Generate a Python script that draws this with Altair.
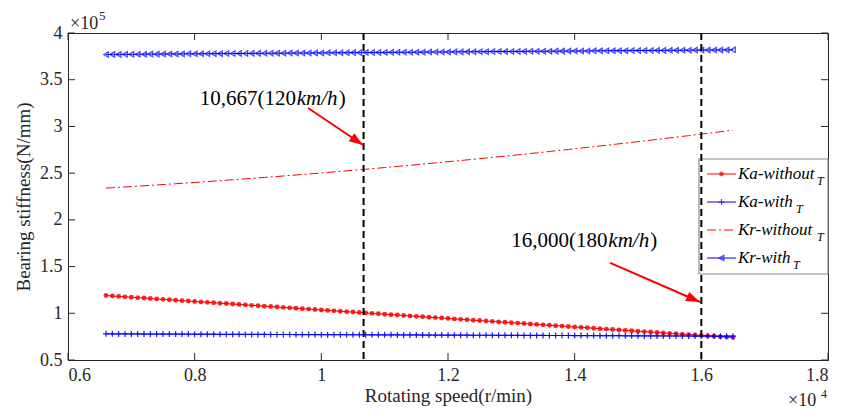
import math
import altair as alt
import pandas as pd

# ---------------- data (x in 10^4 r/min, stiffness in 10^5 N/mm) ----------------
speed = [
    0.66, 0.67, 0.68, 0.69, 0.70, 0.71, 0.72, 0.73, 0.74, 0.75,
    0.76, 0.77, 0.78, 0.79, 0.80, 0.81, 0.82, 0.83, 0.84, 0.85,
    0.86, 0.87, 0.88, 0.89, 0.90, 0.91, 0.92, 0.93, 0.94, 0.95,
    0.96, 0.97, 0.98, 0.99, 1.00, 1.01, 1.02, 1.03, 1.04, 1.05,
    1.06, 1.07, 1.08, 1.09, 1.10, 1.11, 1.12, 1.13, 1.14, 1.15,
    1.16, 1.17, 1.18, 1.19, 1.20, 1.21, 1.22, 1.23, 1.24, 1.25,
    1.26, 1.27, 1.28, 1.29, 1.30, 1.31, 1.32, 1.33, 1.34, 1.35,
    1.36, 1.37, 1.38, 1.39, 1.40, 1.41, 1.42, 1.43, 1.44, 1.45,
    1.46, 1.47, 1.48, 1.49, 1.50, 1.51, 1.52, 1.53, 1.54, 1.55,
    1.56, 1.57, 1.58, 1.59, 1.60, 1.61, 1.62, 1.63, 1.64, 1.65,
]

ka_without = [
    1.190, 1.185, 1.181, 1.176, 1.172, 1.167, 1.163, 1.158, 1.154, 1.149,
    1.145, 1.140, 1.135, 1.131, 1.126, 1.122, 1.117, 1.113, 1.108, 1.104,
    1.099, 1.095, 1.090, 1.085, 1.081, 1.076, 1.072, 1.067, 1.063, 1.058,
    1.054, 1.049, 1.045, 1.040, 1.035, 1.031, 1.026, 1.022, 1.017, 1.013,
    1.008, 1.004, 0.999, 0.995, 0.990, 0.985, 0.981, 0.976, 0.972, 0.967,
    0.963, 0.958, 0.954, 0.949, 0.945, 0.940, 0.935, 0.931, 0.926, 0.922,
    0.917, 0.913, 0.908, 0.904, 0.899, 0.895, 0.890, 0.885, 0.881, 0.876,
    0.872, 0.867, 0.863, 0.858, 0.854, 0.849, 0.845, 0.840, 0.835, 0.831,
    0.826, 0.822, 0.817, 0.813, 0.808, 0.804, 0.799, 0.795, 0.790, 0.785,
    0.781, 0.776, 0.772, 0.767, 0.763, 0.758, 0.754, 0.749, 0.745, 0.740,
]

ka_with = [
    0.780, 0.780, 0.779, 0.779, 0.779, 0.779, 0.778, 0.778, 0.778, 0.778,
    0.777, 0.777, 0.777, 0.777, 0.776, 0.776, 0.776, 0.776, 0.775, 0.775,
    0.775, 0.775, 0.774, 0.774, 0.774, 0.774, 0.773, 0.773, 0.773, 0.773,
    0.772, 0.772, 0.772, 0.772, 0.771, 0.771, 0.771, 0.771, 0.770, 0.770,
    0.770, 0.770, 0.769, 0.769, 0.769, 0.769, 0.768, 0.768, 0.768, 0.768,
    0.767, 0.767, 0.767, 0.767, 0.766, 0.766, 0.766, 0.766, 0.765, 0.765,
    0.765, 0.765, 0.764, 0.764, 0.764, 0.764, 0.763, 0.763, 0.763, 0.763,
    0.762, 0.762, 0.762, 0.762, 0.761, 0.761, 0.761, 0.761, 0.760, 0.760,
    0.760, 0.760, 0.759, 0.759, 0.759, 0.758, 0.758, 0.758, 0.758, 0.757,
    0.757, 0.757, 0.757, 0.756, 0.756, 0.756, 0.756, 0.755, 0.755, 0.755,
]

kr_without = [
    2.340, 2.344, 2.348, 2.352, 2.356, 2.361, 2.365, 2.369, 2.373, 2.378,
    2.382, 2.387, 2.391, 2.396, 2.400, 2.405, 2.410, 2.414, 2.419, 2.424,
    2.429, 2.434, 2.439, 2.444, 2.449, 2.454, 2.459, 2.464, 2.470, 2.475,
    2.480, 2.486, 2.491, 2.496, 2.502, 2.508, 2.513, 2.519, 2.525, 2.530,
    2.536, 2.542, 2.548, 2.554, 2.560, 2.566, 2.572, 2.578, 2.584, 2.590,
    2.597, 2.603, 2.609, 2.616, 2.622, 2.629, 2.635, 2.642, 2.648, 2.655,
    2.662, 2.669, 2.675, 2.682, 2.689, 2.696, 2.703, 2.710, 2.717, 2.724,
    2.732, 2.739, 2.746, 2.753, 2.761, 2.768, 2.776, 2.783, 2.791, 2.798,
    2.806, 2.814, 2.821, 2.829, 2.837, 2.845, 2.853, 2.861, 2.869, 2.877,
    2.885, 2.893, 2.901, 2.910, 2.918, 2.926, 2.934, 2.943, 2.951, 2.960,
]

kr_with = [
    3.770, 3.771, 3.771, 3.772, 3.772, 3.773, 3.773, 3.774, 3.774, 3.775,
    3.775, 3.776, 3.776, 3.777, 3.777, 3.778, 3.778, 3.779, 3.779, 3.780,
    3.780, 3.781, 3.781, 3.782, 3.782, 3.783, 3.783, 3.784, 3.784, 3.785,
    3.785, 3.786, 3.786, 3.787, 3.787, 3.788, 3.788, 3.789, 3.789, 3.790,
    3.790, 3.791, 3.791, 3.792, 3.792, 3.793, 3.793, 3.794, 3.794, 3.795,
    3.795, 3.796, 3.796, 3.797, 3.797, 3.798, 3.798, 3.799, 3.799, 3.800,
    3.800, 3.801, 3.801, 3.802, 3.802, 3.803, 3.803, 3.804, 3.804, 3.805,
    3.805, 3.806, 3.806, 3.807, 3.807, 3.808, 3.808, 3.809, 3.809, 3.810,
    3.810, 3.811, 3.811, 3.812, 3.812, 3.813, 3.813, 3.814, 3.814, 3.815,
    3.815, 3.816, 3.816, 3.817, 3.817, 3.818, 3.818, 3.819, 3.819, 3.820,
]

x_ticks = [0.6, 0.8, 1.0, 1.2, 1.4, 1.6, 1.8]
y_ticks = [0.5, 1.0, 1.5, 2.0, 2.5, 3.0, 3.5, 4.0]

marker_speeds = [1.0667, 1.6]

annotation_labels = ["10,667(120", "16,000(180"]
annotation_unit = "km/h"
annotation_x = [0.808, 1.300]
annotation_y = [3.229, 1.710]

arrow_x1 = [0.979, 1.456]
arrow_y1 = [3.197, 1.540]
arrow_x2 = [1.066, 1.598]
arrow_y2 = [2.801, 1.121]

legend_labels = ["Ka-without", "Ka-with", "Kr-without", "Kr-with"]
legend_sub = "T"

# ---------------- styling ----------------
W, H = 760, 327
X_DOM = [0.6, 1.8]
Y_DOM = [0.5, 4.0]
FONT = "Liberation Serif"
INK = "#262626"
RED = "#ff0000"
BLUE = "#0000ff"
PLUS = "M-1,0L1,0M0,-1L0,1"
HEAD = "M0,0L-0.7,2L0.7,2Z"

xscale = alt.Scale(domain=X_DOM, nice=False, zero=False)
yscale = alt.Scale(domain=Y_DOM, nice=False, zero=False)

xaxis = alt.Axis(
    values=x_ticks, format="~g", ticks=False, tickSize=0, grid=False,
    labelFont=FONT, labelFontSize=18, labelColor=INK, labelPadding=6,
    domainColor=INK, domainWidth=1,
    title="Rotating speed(r/min)", titleFont=FONT, titleFontSize=19,
    titleFontWeight="normal", titleColor=INK, titleX=W / 2, titleY=41,
    titleAlign="center", titleBaseline="alphabetic",
)
yaxis = alt.Axis(
    values=y_ticks, format="~g", ticks=False, tickSize=0, grid=False,
    labelFont=FONT, labelFontSize=18, labelColor=INK, labelPadding=6,
    domainColor=INK, domainWidth=1,
    title="Bearing stiffness(N/mm)", titleFont=FONT, titleFontSize=19,
    titleFontWeight="normal", titleColor=INK, titleX=-39, titleY=H / 2,
    titleAlign="center", titleBaseline="alphabetic", titleAngle=270,
)


def X(field):
    return alt.X(f"{field}:Q", scale=xscale, axis=xaxis)


def Y(field):
    return alt.Y(f"{field}:Q", scale=yscale, axis=yaxis)


def series(vals):
    return pd.DataFrame({"speed": speed, "k": vals})


layers = []

# Ka-without (red, dots)
d1 = alt.Chart(series(ka_without))
layers.append(d1.mark_line(color=RED, strokeWidth=1).encode(X("speed"), Y("k")))
layers.append(d1.mark_point(shape="circle", filled=True, color=RED, size=24, opacity=0.85)
              .encode(X("speed"), Y("k")))

# Ka-with (blue, plus)
d2 = alt.Chart(series(ka_with))
layers.append(d2.mark_line(color=BLUE, strokeWidth=1).encode(X("speed"), Y("k")))
layers.append(d2.mark_point(shape=PLUS, filled=False, color=BLUE, size=36, strokeWidth=1.2, opacity=0.9)
              .encode(X("speed"), Y("k")))

# Kr-without (red dash-dot)
d3 = alt.Chart(series(kr_without))
layers.append(d3.mark_line(color=RED, strokeWidth=1, strokeDash=[9, 3, 2, 3]).encode(X("speed"), Y("k")))

# Kr-with (blue, left triangles)
d4 = alt.Chart(series(kr_with))
layers.append(d4.mark_line(color=BLUE, strokeWidth=1).encode(X("speed"), Y("k")))
layers.append(d4.mark_point(shape="triangle-left", filled=False, color=BLUE, size=28, strokeWidth=1.3)
              .encode(X("speed"), Y("k")))

# inward ticks on all four sides
xt = alt.Chart(pd.DataFrame({"t": x_ticks}))
yt = alt.Chart(pd.DataFrame({"t": y_ticks}))
layers.append(xt.mark_rule(color=INK, strokeWidth=1).encode(X("t"), y=alt.value(H - 7), y2=alt.value(H)))
layers.append(xt.mark_rule(color=INK, strokeWidth=1).encode(X("t"), y=alt.value(0), y2=alt.value(7)))
layers.append(yt.mark_rule(color=INK, strokeWidth=1).encode(Y("t"), x=alt.value(0), x2=alt.value(7)))
layers.append(yt.mark_rule(color=INK, strokeWidth=1).encode(Y("t"), x=alt.value(W - 7), x2=alt.value(W)))

dummy = alt.Chart(pd.DataFrame({"d": [0]}))

# legend box
LX0, LX1, LY0, LY1 = 631, W, 126, 241
layers.append(dummy.mark_rect(fill="white", stroke="#8a8a8a", strokeWidth=1.2).encode(
    x=alt.value(LX0), x2=alt.value(LX1), y=alt.value(LY0), y2=alt.value(LY1)))

# dashed vertical markers
layers.append(alt.Chart(pd.DataFrame({"s": marker_speeds})).mark_rule(
    color="black", strokeWidth=2, strokeDash=[7, 4]).encode(X("s")))

# arrows
arr = pd.DataFrame({"x1": arrow_x1, "y1": arrow_y1, "x2": arrow_x2, "y2": arrow_y2})
arr["angle"] = [
    math.degrees(math.atan2((a - b) * H / (Y_DOM[1] - Y_DOM[0]), (c - d) * W / (X_DOM[1] - X_DOM[0]))) + 90
    for a, b, c, d in zip(arr["y1"], arr["y2"], arr["x2"], arr["x1"])
]
ca = alt.Chart(arr)
layers.append(ca.mark_rule(color=RED, strokeWidth=2).encode(
    X("x1"), Y("y1"), x2=alt.X2("x2:Q"), y2=alt.Y2("y2:Q")))
layers.append(ca.mark_point(shape=HEAD, filled=True, color=RED, size=196, opacity=1).encode(
    X("x2"), Y("y2"), angle=alt.Angle("angle:Q", scale=None)))

# annotation texts
ann = alt.Chart(pd.DataFrame({"tx": annotation_x, "ty": annotation_y, "label": annotation_labels}))
layers.append(ann.mark_text(align="left", baseline="alphabetic", font=FONT, fontSize=21, color="black")
              .encode(X("tx"), Y("ty"), text="label:N"))
layers.append(ann.mark_text(align="left", baseline="alphabetic", font=FONT, fontSize=21, color="black",
                            fontStyle="italic", dx=97, text=annotation_unit)
              .encode(X("tx"), Y("ty")))
layers.append(ann.mark_text(align="left", baseline="alphabetic", font=FONT, fontSize=21, color="black",
                            dx=139, text=")")
              .encode(X("tx"), Y("ty")))

# legend entries
legend_colors = [RED, BLUE, RED, BLUE]
legend_dash = [[1, 0], [1, 0], [9, 3, 2, 3], [1, 0]]
legend_shapes = ["circle", PLUS, None, "triangle-left"]
legend_sub_x = [749, 728, 749, 725]
for i, lab in enumerate(legend_labels):
    ry = 141 + 28 * i
    layers.append(dummy.mark_rule(color=legend_colors[i], strokeWidth=1, strokeDash=legend_dash[i]).encode(
        x=alt.value(639), x2=alt.value(668), y=alt.value(ry)))
    shp = legend_shapes[i]
    if shp == "circle":
        layers.append(dummy.mark_point(shape="circle", filled=True, color=RED, size=24).encode(
            x=alt.value(653.5), y=alt.value(ry)))
    elif shp == PLUS:
        layers.append(dummy.mark_point(shape=PLUS, filled=False, color=BLUE, size=36, strokeWidth=1.2).encode(
            x=alt.value(653.5), y=alt.value(ry)))
    elif shp == "triangle-left":
        layers.append(dummy.mark_point(shape="triangle-left", filled=False, color=BLUE, size=28, strokeWidth=1.3).encode(
            x=alt.value(653.5), y=alt.value(ry)))
    layers.append(dummy.mark_text(align="left", baseline="middle", font=FONT, fontSize=17,
                                  fontStyle="italic", color="black", text=lab).encode(
        x=alt.value(670), y=alt.value(ry)))
    layers.append(dummy.mark_text(align="left", baseline="middle", font=FONT, fontSize=12,
                                  fontStyle="italic", color="black", text=legend_sub).encode(
        x=alt.value(legend_sub_x[i]), y=alt.value(ry + 7)))

# axis exponents
layers.append(dummy.mark_text(align="left", baseline="alphabetic", font=FONT, fontSize=18, color=INK,
                              text="\u00d710").encode(x=alt.value(2), y=alt.value(-4)))
layers.append(dummy.mark_text(align="left", baseline="alphabetic", font=FONT, fontSize=13, color=INK,
                              text="5").encode(x=alt.value(31), y=alt.value(-13)))
layers.append(dummy.mark_text(align="left", baseline="alphabetic", font=FONT, fontSize=18, color=INK,
                              text="\u00d710").encode(x=alt.value(720), y=alt.value(373)))
layers.append(dummy.mark_text(align="left", baseline="alphabetic", font=FONT, fontSize=12, color=INK,
                              text="4").encode(x=alt.value(753), y=alt.value(365)))

chart = alt.layer(*layers).properties(
    width=W, height=H,
    padding={"left": 60, "top": 25, "right": 7, "bottom": 51},
    autosize=alt.AutoSizeParams(type="none"),
    background="white",
).configure_view(stroke=INK, strokeWidth=1)

chart.save("out.html", embed_options={"renderer": "svg", "actions": False})
